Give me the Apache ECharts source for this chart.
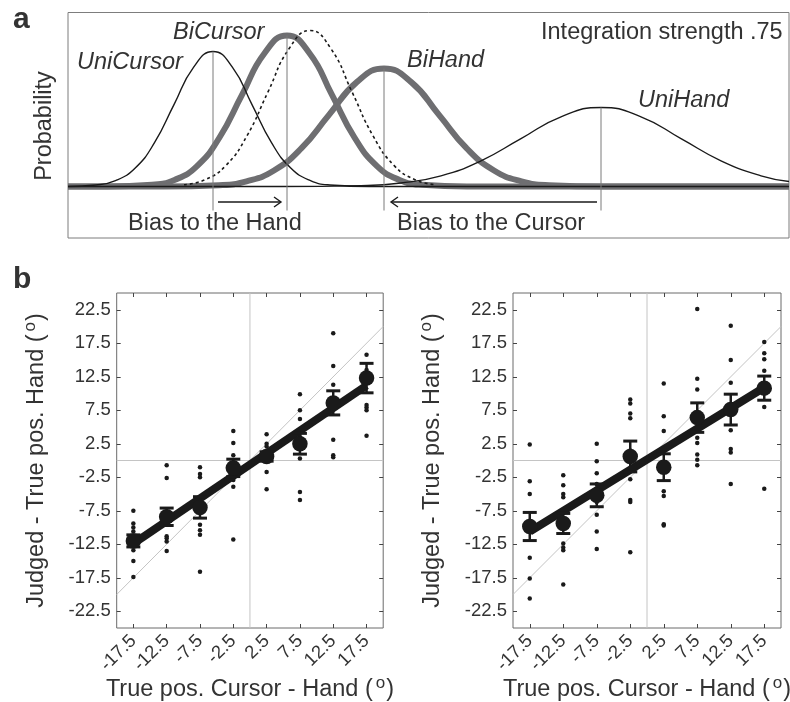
<!DOCTYPE html>
<html>
<head>
<meta charset="utf-8">
<script src="https://cdn.jsdelivr.net/npm/echarts@6/dist/echarts.min.js"></script>
<style>
  html, body { margin: 0; padding: 0; background: #fff; }
  #main { width: 790px; height: 702px; }
</style>
</head>
<body>
<div id="main"></div>
<script>
// ---- panel a: curves as [position, height above baseline]
var uniCursorCurve = [[0,0],[28,1.5],[47.5,5.9],[67,18.3],[86.5,43.8],[106,81.9],[125.5,119.1],[145,135],[164.5,119.1],[184,81.9],[203.5,43.8],[223,18.3],[242.5,5.9],[262,1.5],[301,0],[721,0]];
var biCursorCurve = [[0,0],[39,0],[84,1.7],[106.5,6.6],[129,20.4],[151.5,49.0],[174,91.6],[196.5,133.3],[219,151],[241.5,133.3],[264,91.6],[286.5,49.0],[309,20.4],[331.5,6.6],[354,1.7],[399,0],[721,0]];
var dottedCurve = [[116,1.7],[137,6.8],[158,21.1],[179,50.7],[200,94.6],[221,137.7],[242,156],[263,137.7],[284,94.6],[305,50.7],[326,21.1],[347,6.8],[368,1.7]];
var biHandCurve = [[0,0],[96,0],[151,1.3],[178.5,5.2],[206,16.0],[233.5,38.3],[261,71.6],[288.5,104.1],[316,118],[343.5,104.1],[371,71.6],[398.5,38.3],[426,16.0],[453.5,5.2],[481,1.3],[536,0],[721,0]];
var uniHandCurve = [[0,0],[213,0],[293,0.9],[333,3.5],[373,10.7],[413,25.7],[453,47.9],[493,69.7],[533,79],[573,69.7],[613,47.9],[653,25.7],[693,10.7],[721,5.0]];

// ---- panel b: conditions, ticks, data
var conds = [-17.5, -12.5, -7.5, -2.5, 2.5, 7.5, 12.5, 17.5];
var xTicks = [-17.5, -12.5, -7.5, -2.5, 2.5, 7.5, 12.5, 17.5];
var yTicks = [22.5, 17.5, 12.5, 7.5, 2.5, -2.5, -7.5, -12.5, -17.5, -22.5];

var leftMeans = [-12.0, -8.4, -7.0, -1.1, 0.6, 2.5, 8.6, 12.3];
var leftErr   = [0.9, 1.3, 1.6, 1.3, 0.7, 1.55, 1.8, 2.2];
var leftFit   = [-12.4, 11.2];
var leftDots = [
  [-7.5, -9.4, -10.0, -10.6, -11.5, -12.5, -13.4, -15.0, -17.4],
  [-0.7, -2.6, -8.0, -11.3, -11.6, -12.1, -13.5],
  [-1.0, -2.0, -2.5, -5.8, -9.6, -10.4, -11.1, -16.6],
  [4.4, 2.6, 0.8, -1.0, -2.9, -3.9, -11.8],
  [3.9, 2.5, 2.1, 1.2, 0.3, -1.7, -4.3],
  [9.9, 7.5, 6.2, 3.5, 0.3, -4.7, -5.9],
  [19.0, 14.1, 11.3, 8.0, 3.1, 0.8, 0.5],
  [15.8, 13.5, 8.3, 7.9, 7.5, 3.7]
];

var rightMeans = [-9.85, -9.4, -5.2, 0.6, -1.0, 6.4, 7.6, 10.8];
var rightErr   = [2.1, 1.5, 1.7, 2.3, 2.0, 2.2, 2.3, 1.8];
var rightFit   = [-10.6, 10.9];
var rightDots = [
  [2.4, -3.1, -5.0, -9.0, -14.5, -17.6, -20.6],
  [-2.2, -3.7, -5.0, -5.5, -9.5, -12.4, -13.0, -13.4, -18.5],
  [2.5, -0.1, -1.9, -3.5, -6.2, -8.1, -10.6, -13.2],
  [9.1, 8.5, 7.0, 6.3, 1.5, -2.8, -5.9, -6.2, -13.7],
  [11.5, 6.6, 4.4, -1.0, -4.6, -5.3, -9.5, -9.7],
  [22.6, 12.2, 10.6, 3.4, 2.6, 0.9, 0.1, -0.7],
  [20.1, 15.0, 11.6, 7.0, 4.5, 1.7, 1.2, -3.5],
  [17.7, 16.0, 15.1, 13.4, 11.0, 8.0, -4.2]
];

var font = '"Liberation Sans", Arial, Helvetica, sans-serif';
var ink = '#1a1a1a';
var textCol = '#333';
var thickGrey = '#6e6e71';

var chart = echarts.init(document.getElementById('main'));

function peakOf(curve) {
  var best = curve[0];
  curve.forEach(function (p) { if (p[1] > best[1]) best = p; });
  return best;
}
var peaks = [uniCursorCurve, biCursorCurve, biHandCurve, uniHandCurve].map(peakOf);
var vlineBottom = -24;
var arrowY = -15.5;
var arrows = [
  [peaks[0][0] + 5, peaks[1][0] - 6, arrowY],
  [peaks[3][0] - 4, peaks[2][0] + 7, arrowY]
];

function curveSeries(data, width, color, dash, z) {
  return {
    type: 'line', xAxisIndex: 0, yAxisIndex: 0, data: data,
    smooth: true, symbol: 'none', silent: true, z: z,
    lineStyle: { width: width, color: color, type: dash || 'solid' }
  };
}

function errorBarItem(params, api) {
  var x = api.value(0), m = api.value(1), e = api.value(2);
  var top = api.coord([x, m + e]);
  var bot = api.coord([x, m - e]);
  var hw = 7;
  return {
    type: 'group',
    children: [
      { type: 'line', shape: { x1: top[0], y1: top[1], x2: bot[0], y2: bot[1] }, style: { stroke: ink, lineWidth: 2.5 } },
      { type: 'line', shape: { x1: top[0] - hw, y1: top[1], x2: top[0] + hw, y2: top[1] }, style: { stroke: ink, lineWidth: 3 } },
      { type: 'line', shape: { x1: bot[0] - hw, y1: bot[1], x2: bot[0] + hw, y2: bot[1] }, style: { stroke: ink, lineWidth: 3 } }
    ]
  };
}

function panelSeries(xi, yi, means, errs, fit, dots) {
  var dotData = [];
  conds.forEach(function (c, i) { dots[i].forEach(function (v) { dotData.push([c, v]); }); });
  var refStyle = { color: '#c4c4c4', width: 1 };
  return [
    { type: 'line', xAxisIndex: xi, yAxisIndex: yi, data: [[0, -25], [0, 25]], symbol: 'none', silent: true, lineStyle: refStyle, z: 1 },
    { type: 'line', xAxisIndex: xi, yAxisIndex: yi, data: [[-20, 0], [20, 0]], symbol: 'none', silent: true, lineStyle: refStyle, z: 1 },
    { type: 'line', xAxisIndex: xi, yAxisIndex: yi, data: [[-20, -20], [20, 20]], symbol: 'none', silent: true, lineStyle: refStyle, z: 1 },
    { type: 'scatter', xAxisIndex: xi, yAxisIndex: yi, data: dotData, symbolSize: 4.5, itemStyle: { color: ink, opacity: 1 }, silent: true, z: 2 },
    { type: 'line', xAxisIndex: xi, yAxisIndex: yi, data: [[conds[0], fit[0]], [conds[conds.length - 1], fit[1]]], symbol: 'none', silent: true, lineStyle: { color: ink, width: 8 }, z: 3 },
    { type: 'custom', xAxisIndex: xi, yAxisIndex: yi, data: conds.map(function (c, i) { return [c, means[i], errs[i]]; }), renderItem: errorBarItem, encode: { x: 0, y: 1 }, silent: true, z: 4 },
    { type: 'scatter', xAxisIndex: xi, yAxisIndex: yi, data: conds.map(function (c, i) { return [c, means[i]]; }), symbolSize: 15.5, itemStyle: { color: ink, opacity: 1 }, silent: true, z: 5 }
  ];
}

var nameStyle = {
  fontSize: 23.5, color: textCol, fontFamily: font, lineHeight: 30,
  rich: { sup: { fontSize: 17, lineHeight: 4, verticalAlign: 'top', color: textCol, fontFamily: font, padding: [0, 1, 0, 3] } }
};
var tickLine = { color: '#444', width: 1 };

function xAxes(g) {
  return [
    {
      type: 'value', gridIndex: g, min: -20, max: 20, position: 'bottom',
      axisLine: { show: false, onZero: false },
      axisTick: { show: true, inside: true, length: 4, customValues: xTicks, lineStyle: tickLine },
      axisLabel: { show: true, customValues: xTicks, rotate: 45, margin: 10, fontSize: 18.5, color: textCol, fontFamily: font },
      splitLine: { show: false },
      name: 'True pos. Cursor - Hand ({sup|o})', nameLocation: 'middle', nameGap: 47,
      nameMoveOverlap: false, nameTextStyle: nameStyle
    },
    {
      type: 'value', gridIndex: g, min: -20, max: 20, position: 'top',
      axisLine: { show: false, onZero: false },
      axisTick: { show: true, inside: true, length: 4, customValues: xTicks, lineStyle: tickLine },
      axisLabel: { show: false }, splitLine: { show: false }
    }
  ];
}
function yAxes(g) {
  return [
    {
      type: 'value', gridIndex: g, min: -25, max: 25, position: 'left',
      axisLine: { show: false, onZero: false },
      axisTick: { show: true, inside: true, length: 4, customValues: yTicks, lineStyle: tickLine },
      axisLabel: { show: true, customValues: yTicks, margin: 6, fontSize: 18.5, color: textCol, fontFamily: font },
      splitLine: { show: false },
      name: 'Judged - True pos. Hand ({sup|o})', nameLocation: 'middle', nameGap: 65,
      nameMoveOverlap: false, nameTextStyle: nameStyle
    },
    {
      type: 'value', gridIndex: g, min: -25, max: 25, position: 'right',
      axisLine: { show: false, onZero: false },
      axisTick: { show: true, inside: true, length: 4, customValues: yTicks, lineStyle: tickLine },
      axisLabel: { show: false }, splitLine: { show: false }
    }
  ];
}

function label(text, x, y, opts) {
  opts = opts || {};
  return {
    type: 'text', x: x, y: y, rotation: opts.rotation || 0, silent: true,
    style: {
      text: text, fill: textCol, fontFamily: font,
      fontSize: opts.size || 23.5, fontStyle: opts.italic ? 'italic' : 'normal',
      fontWeight: opts.bold ? 'bold' : 'normal',
      align: opts.align || 'left', verticalAlign: 'middle'
    }
  };
}

var option = {
  animation: false,
  backgroundColor: '#fff',
  grid: [
    { left: 68, top: 12.5, width: 721, height: 225.5, show: true, borderColor: '#7d7d7d', borderWidth: 1, containLabel: false, outerBoundsMode: 'none' },
    { left: 116.7, top: 293, width: 266.5, height: 335, show: true, borderColor: '#6a6a6a', borderWidth: 1, containLabel: false, outerBoundsMode: 'none' },
    { left: 513, top: 293, width: 268, height: 335, show: true, borderColor: '#6a6a6a', borderWidth: 1, containLabel: false, outerBoundsMode: 'none' }
  ],
  xAxis: [{ type: 'value', gridIndex: 0, min: 0, max: 721, show: false }].concat(xAxes(1), xAxes(2)),
  yAxis: [{ type: 'value', gridIndex: 0, min: -51.5, max: 174, show: false }].concat(yAxes(1), yAxes(2)),
  series: [
    curveSeries(biCursorCurve, 6, thickGrey, null, 2),
    curveSeries(biHandCurve, 6, thickGrey, null, 2),
    curveSeries(dottedCurve, 1.6, ink, [3, 3], 3),
    curveSeries(uniCursorCurve, 1.4, ink, null, 3),
    curveSeries(uniHandCurve, 1.4, ink, null, 3),
    {
      type: 'custom', xAxisIndex: 0, yAxisIndex: 0, data: peaks, encode: { x: 0, y: 1 }, silent: true, z: 4,
      renderItem: function (params, api) {
        var a = api.coord([api.value(0), api.value(1)]);
        var b = api.coord([api.value(0), vlineBottom]);
        return { type: 'line', shape: { x1: a[0], y1: a[1], x2: b[0], y2: b[1] }, style: { stroke: '#7a7a7a', lineWidth: 1 } };
      }
    },
    {
      type: 'custom', xAxisIndex: 0, yAxisIndex: 0, data: arrows, encode: { x: [0, 1], y: 2 }, silent: true, z: 4,
      renderItem: function (params, api) {
        var p0 = api.coord([api.value(0), api.value(2)]);
        var p1 = api.coord([api.value(1), api.value(2)]);
        var dir = p1[0] > p0[0] ? 1 : -1;
        var st = { stroke: ink, lineWidth: 1.4, fill: null };
        return {
          type: 'group',
          children: [
            { type: 'line', shape: { x1: p0[0], y1: p0[1], x2: p1[0], y2: p1[1] }, style: st },
            { type: 'polyline', shape: { points: [[p1[0] - dir * 7, p1[1] - 5], [p1[0], p1[1]], [p1[0] - dir * 7, p1[1] + 5]] }, style: st }
          ]
        };
      }
    }
  ].concat(panelSeries(1, 1, leftMeans, leftErr, leftFit, leftDots), panelSeries(3, 3, rightMeans, rightErr, rightFit, rightDots)),
  graphic: [
    label('a', 13, 20, { bold: true, size: 30 }),
    label('b', 13, 280, { bold: true, size: 30 }),
    label('Probability', 45, 126, { rotation: Math.PI / 2, align: 'center' }),
    label('UniCursor', 77, 62, { italic: true }),
    label('BiCursor', 173, 32.5, { italic: true }),
    label('BiHand', 407, 60, { italic: true }),
    label('UniHand', 638, 100, { italic: true }),
    label('Integration strength .75', 541, 32.5),
    label('Bias to the Hand', 128, 223.5),
    label('Bias to the Cursor', 397, 223.5)
  ]
};

chart.setOption(option);
</script>
</body>
</html>
